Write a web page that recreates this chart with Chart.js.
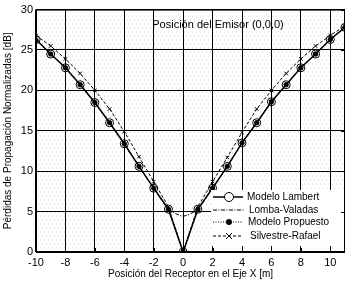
<!DOCTYPE html>
<html>
<head>
<meta charset="utf-8">
<script src="https://cdn.jsdelivr.net/npm/chart.js@4"></script>
<style>
  html, body { margin: 0; padding: 0; background: #fff; }
  canvas { display: block; }
</style>
</head>
<body>
<canvas id="chart" width="354" height="286"></canvas>
<script>
const positions = [-10, -9, -8, -7, -6, -5, -4, -3, -2, -1, 0, 1, 2, 3, 4, 5, 6, 7, 8, 9, 10, 11];
const lambert = [26.3, 24.5, 22.8, 20.7, 18.5, 16.0, 13.4, 10.6, 7.9, 5.3, 0, 5.3, 7.9, 10.6, 13.5, 16.0, 18.6, 20.7, 22.8, 24.5, 26.3, 27.8];
const propuesto = [26.2, 24.5, 22.8, 20.7, 18.5, 16.0, 13.4, 10.6, 7.9, 5.3, 0, 5.3, 7.9, 10.6, 13.5, 16.0, 18.6, 20.7, 22.8, 24.5, 26.3, 27.8];
const silvestre = [26.8, 25.5, 23.9, 22.1, 20.0, 17.7, 14.9, 11.8, 8.7, 5.6, 0, 5.6, 8.7, 11.7, 14.8, 17.7, 20.0, 22.1, 23.9, 25.5, 26.8, 28.0];
const lombaPositions = [-10, -9, -8, -7, -6, -5, -4, -3, -2, -1, -0.5, 0, 0.5, 1, 2, 3, 4, 5, 6, 7, 8, 9, 10, 11];
const lomba = [26.3, 24.5, 22.8, 20.7, 18.5, 16.0, 13.4, 10.6, 7.9, 5.3, 4.75, 4.45, 4.75, 5.3, 7.9, 10.6, 13.5, 16.0, 18.6, 20.7, 22.8, 24.5, 26.3, 27.8];
const xTicks = [-10, -8, -6, -4, -2, 0, 2, 4, 6, 8, 10];
const yTicks = [0, 5, 10, 15, 20, 25, 30];
const seriesNames = ['Modelo Lambert', 'Lomba-Valadas', 'Modelo Propuesto', 'Silvestre-Rafael'];
const chartTitle = 'Posición del Emisor (0,0,0)';
const xTitle = 'Posición del Receptor en el Eje X [m]';
const yTitle = 'Pérdidas de Propagación Normalizadas [dB]';

const FONT = '"Liberation Sans", Arial, sans-serif';

function toPoints(xs, ys) {
  return xs.map((x, i) => ({ x: x, y: ys[i] }));
}

// light dotted texture behind the grid
const stipple = {
  id: 'stipple',
  beforeDraw(chart) {
    const { ctx, chartArea: a } = chart;
    ctx.save();
    ctx.fillStyle = '#fff';
    ctx.fillRect(0, 0, chart.width, chart.height);
    ctx.fillStyle = '#d4d4d4';
    let row = 0;
    for (let y = a.top + 2; y < a.bottom; y += 4, row++) {
      for (let x = a.left + 2 + (row % 2) * 2; x < a.right; x += 4) {
        ctx.fillRect(x, y, 1, 1);
      }
    }
    ctx.restore();
  }
};

// frame, inner ticks, title text and legend box
const decorations = {
  id: 'decorations',
  afterDatasetsDraw(chart) {
    const { ctx, chartArea: a, scales } = chart;
    ctx.save();

    // legend box
    const lx = 211, ly = 190, lw = a.right - lx, lh = 56;
    ctx.fillStyle = '#fff';
    ctx.fillRect(lx, ly, lw, lh);

    const rows = [197, 210, 222, 236];
    const x0 = 213, x1 = 243, xm = 229;
    ctx.strokeStyle = '#000';
    ctx.fillStyle = '#000';

    // Lambert
    ctx.lineWidth = 1.5;
    ctx.setLineDash([]);
    ctx.beginPath(); ctx.moveTo(x0, rows[0]); ctx.lineTo(x1, rows[0]); ctx.stroke();
    ctx.beginPath(); ctx.arc(xm, rows[0], 4.5, 0, Math.PI * 2);
    ctx.fillStyle = '#fff'; ctx.fill(); ctx.lineWidth = 1; ctx.stroke();
    // Lomba
    ctx.setLineDash([4, 1.5, 1, 1.5]);
    ctx.beginPath(); ctx.moveTo(x0, rows[1]); ctx.lineTo(x1 + 2, rows[1]); ctx.stroke();
    // Propuesto
    ctx.setLineDash([1, 1.5]);
    ctx.beginPath(); ctx.moveTo(x0, rows[2]); ctx.lineTo(x1, rows[2]); ctx.stroke();
    ctx.setLineDash([]);
    ctx.fillStyle = '#000';
    ctx.beginPath(); ctx.arc(xm, rows[2], 3, 0, Math.PI * 2); ctx.fill();
    // Silvestre
    ctx.setLineDash([3, 2]);
    ctx.beginPath(); ctx.moveTo(x0, rows[3]); ctx.lineTo(x1, rows[3]); ctx.stroke();
    ctx.setLineDash([]);
    ctx.beginPath();
    ctx.moveTo(xm - 3, rows[3] - 3); ctx.lineTo(xm + 3, rows[3] + 3);
    ctx.moveTo(xm - 3, rows[3] + 3); ctx.lineTo(xm + 3, rows[3] - 3);
    ctx.stroke();

    ctx.font = '10px ' + FONT;
    ctx.textBaseline = 'middle';
    ctx.textAlign = 'left';
    const textX = [247, 249, 248, 250];
    seriesNames.forEach((name, i) => ctx.fillText(name, textX[i], rows[i]));

    // title inside plot
    ctx.font = '11px ' + FONT;
    ctx.textAlign = 'center';
    ctx.fillText(chartTitle, 218, 25);

    // frame
    ctx.lineWidth = 1;
    ctx.strokeRect(a.left + 0.5, a.top + 0.5, a.right - a.left - 1, a.bottom - a.top - 1);
    ctx.lineWidth = 2;
    ctx.beginPath();
    ctx.moveTo(a.left, a.bottom); ctx.lineTo(a.right, a.bottom);
    ctx.moveTo(a.left, a.top); ctx.lineTo(a.left, a.bottom);
    ctx.stroke();

    // inward ticks on the right side
    ctx.lineWidth = 1;
    ctx.beginPath();
    yTicks.forEach(v => {
      const y = Math.round(scales.y.getPixelForValue(v)) + 0.5;
      ctx.moveTo(a.right - 4, y); ctx.lineTo(a.right, y);
    });
    xTicks.forEach(v => {
      const x = Math.round(scales.x.getPixelForValue(v)) + 0.5;
      ctx.moveTo(x, a.bottom - 4); ctx.lineTo(x, a.bottom);
    });
    ctx.stroke();
    ctx.restore();
  }
};

const ctx = document.getElementById('chart').getContext('2d');
new Chart(ctx, {
  type: 'line',
  data: {
    datasets: [
      {
        label: seriesNames[0],
        data: toPoints(positions, lambert),
        borderColor: '#000',
        borderWidth: 1.5,
        pointStyle: 'circle',
        pointRadius: 4,
        pointBorderWidth: 1,
        pointBorderColor: '#000',
        pointBackgroundColor: 'rgba(0,0,0,0)',
        tension: 0
      },
      {
        label: seriesNames[1],
        data: toPoints(lombaPositions, lomba),
        borderColor: '#000',
        borderWidth: 1,
        borderDash: [4, 1.5, 1, 1.5],
        pointRadius: 0,
        cubicInterpolationMode: 'monotone'
      },
      {
        label: seriesNames[2],
        data: toPoints(positions, propuesto),
        borderColor: '#000',
        borderWidth: 1,
        borderDash: [1, 1.5],
        pointStyle: 'circle',
        pointRadius: 2.2,
        pointBackgroundColor: '#000',
        pointBorderColor: '#000',
        tension: 0
      },
      {
        label: seriesNames[3],
        data: toPoints(positions, silvestre),
        borderColor: '#000',
        borderWidth: 1,
        borderDash: [3, 2],
        pointStyle: 'crossRot',
        pointRadius: 2.5,
        pointBorderWidth: 1,
        pointBorderColor: '#000',
        tension: 0
      }
    ]
  },
  options: {
    responsive: false,
    animation: false,
    devicePixelRatio: 1,
    layout: { padding: { top: 8, right: 9, left: 0, bottom: 0 } },
    plugins: {
      legend: { display: false },
      tooltip: { enabled: false }
    },
    scales: {
      x: {
        type: 'linear',
        min: -10,
        max: 11,
        afterBuildTicks: scale => { scale.ticks = xTicks.map(v => ({ value: v })); },
        afterFit: scale => { scale.height = 34; },
        grid: { color: '#000', lineWidth: 1, drawTicks: false },
        border: { display: false },
        ticks: {
          padding: 4,
          maxRotation: 0,
          autoSkip: false,
          color: '#000',
          font: { family: FONT, size: 11 }
        },
        title: {
          display: true,
          text: xTitle,
          color: '#000',
          font: { family: FONT, size: 10 },
          padding: { top: 0, bottom: 6 }
        }
      },
      y: {
        min: 0,
        max: 30,
        afterBuildTicks: scale => { scale.ticks = yTicks.map(v => ({ value: v })); },
        afterFit: scale => { scale.width = 36; },
        grid: { color: '#000', lineWidth: 1, drawTicks: false },
        border: { display: false },
        ticks: {
          padding: 3,
          color: '#000',
          font: { family: FONT, size: 11 }
        },
        title: {
          display: true,
          text: yTitle,
          color: '#000',
          font: { family: FONT, size: 10 },
          padding: { top: 2, bottom: 0 }
        }
      }
    }
  },
  plugins: [stipple, decorations]
});
</script>
</body>
</html>
